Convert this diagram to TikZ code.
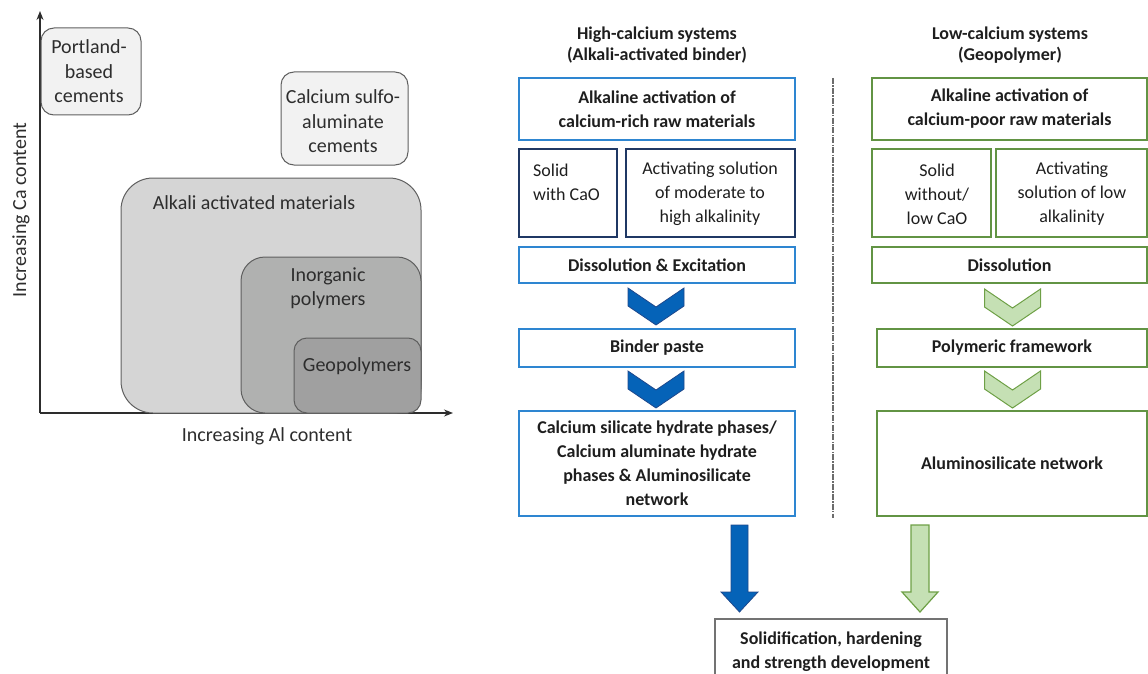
\documentclass[tikz,border=0pt]{standalone}
\usepackage{fontspec}
\setmainfont{Carlito}
\usetikzlibrary{arrows.meta}
\definecolor{flowblue}{RGB}{46,134,209}
\definecolor{navyline}{RGB}{31,56,100}
\definecolor{chevblue}{RGB}{5,99,184}
\definecolor{chevblueline}{RGB}{30,72,140}
\definecolor{flowgreen}{RGB}{98,148,68}
\definecolor{chevgreen}{RGB}{197,224,180}
\definecolor{chevgreenline}{RGB}{110,160,70}
\definecolor{txt}{RGB}{30,30,30}
\definecolor{ltxt}{RGB}{45,45,45}
\definecolor{edge}{RGB}{95,95,95}
\definecolor{fillA}{RGB}{242,242,242}
\definecolor{fillB}{RGB}{213,213,213}
\definecolor{fillC}{RGB}{176,177,176}
\definecolor{fillD}{RGB}{160,160,160}
\begin{document}
\begin{tikzpicture}[x=1pt,y=-1pt,
  ltext/.style={text=ltxt, align=center, inner sep=0pt, font=\fontsize{20}{24.5}\selectfont},
  gbox/.style={draw=edge, line width=1pt},
  bbox/.style={draw=flowblue, line width=1.2pt, inner sep=0pt, text=txt, align=center,
     font=\fontsize{18}{24}\selectfont\bfseries},
  nbox/.style={draw=navyline, line width=1.2pt, inner sep=0pt},
  grbox/.style={draw=flowgreen, line width=1.2pt, inner sep=0pt, text=txt, align=center,
     font=\fontsize{18}{24}\selectfont\bfseries},
  rtext/.style={text=txt, inner sep=0pt, font=\fontsize{18}{24}\selectfont},
  hdr/.style={text=txt, align=center, inner sep=0pt, font=\fontsize{18}{21}\selectfont\bfseries},
  pics/chev/.style={code={
    \path[pic actions] (-28,0) -- (0,19) -- (28,0) -- (28,18) -- (0,37) -- (-28,18) -- cycle;}},
  bchev/.style={fill=chevblue, draw=chevblueline, line width=0.8pt, line join=miter},
  gchev/.style={fill=chevgreen, draw=chevgreenline, line width=1pt},
]
\useasboundingbox (0,0) rectangle (1148,674);
\clip (0,0) rectangle (1148,674);

% ---------- left diagram ----------
\coordinate (origin) at (40,413);
\coordinate (ytip) at (40,11);
\coordinate (xtip) at (453,413);
\draw[line width=1.2pt, draw=ltxt, -{Stealth[length=9pt,width=7pt]}] (origin) -- (ytip);
\draw[line width=1.2pt, draw=ltxt, -{Stealth[length=9pt,width=7pt]}] (origin) -- (xtip);

\node[gbox, fill=fillA, rounded corners=13pt, minimum width=100pt, minimum height=87pt] (port) at (91,71.5) {};
\node[ltext] (portt) at (89,71.5) {Portland-\\based\\cements};

\node[gbox, fill=fillA, rounded corners=13pt, minimum width=127pt, minimum height=93pt] (csa) at (344.5,118.5) {};
\node[ltext] (csat) at (343,121.5) {Calcium sulfo-\\aluminate\\cements};

\node[gbox, fill=fillB, rounded corners=32pt, minimum width=300pt, minimum height=235pt] (aam) at (271,295.5) {};
\node[ltext] (aamt) at (254,203) {Alkali activated materials};

\node[gbox, fill=fillC, rounded corners=24pt, minimum width=180pt, minimum height=156pt] (inorg) at (331,335) {};
\node[ltext] (inorgt) at (328,288) {Inorganic\\polymers};

\node[gbox, fill=fillD, rounded corners=13pt, minimum width=127pt, minimum height=75pt] (geo) at (357.5,375.5) {};
\node[ltext] (geot) at (357,366) {Geopolymers};

\node[ltext] (xlab) at (267,436) {Increasing Al content};
\node[ltext, rotate=90] (ylab) at (21,210) {Increasing Ca content};

% ---------- right diagram: high calcium ----------
\node[hdr] (h1) at (657,45.5) {High-calcium systems\\(Alkali-activated binder)};
\node[hdr] (h2) at (1010,45.5) {Low-calcium systems\\(Geopolymer)};

\node[bbox, minimum width=276pt, minimum height=62pt] (b1) at (657,109) {Alkaline activation of\\calcium-rich raw materials};
\node[nbox, minimum width=98pt, minimum height=88pt] (b2) at (568,193) {};
\node[rtext, anchor=west, align=left] (b2t) at (533,182) {Solid\\with CaO};
\node[nbox, minimum width=169pt, minimum height=88pt] (b3) at (710.5,193) {};
\node[rtext, align=center] (b3t) at (710,194) {Activating solution\\of moderate to\\high alkalinity};
\node[bbox, minimum width=276pt, minimum height=36pt] (b4) at (657,265) {Dissolution \& Excitation};
\pic[bchev] (c1) at (656,288) {chev};
\node[bbox, minimum width=276pt, minimum height=38pt] (b5) at (657,348) {Binder paste};
\pic[bchev] (c2) at (656,371) {chev};
\node[bbox, minimum width=276pt, minimum height=105pt] (b6) at (657,463.5) {Calcium silicate hydrate phases/\\Calcium aluminate hydrate\\phases \& Aluminosilicate\\network};

% ---------- right diagram: low calcium ----------
\node[grbox, minimum width=275pt, minimum height=62pt] (g1) at (1009.5,109) {Alkaline activation of\\calcium-poor raw materials};
\node[grbox, minimum width=119pt, minimum height=88pt] (g2) at (931.5,193) {};
\node[rtext, align=center] (g2t) at (937,194) {Solid\\without/\\low CaO};
\node[grbox, minimum width=151pt, minimum height=88pt] (g3) at (1071.5,193) {};
\node[rtext, align=center] (g3t) at (1072,194) {Activating\\solution of low\\alkalinity};
\node[grbox, minimum width=275pt, minimum height=36pt] (g4) at (1009.5,265) {Dissolution};
\pic[gchev] (c3) at (1012.5,289) {chev};
\node[grbox, minimum width=270pt, minimum height=38pt] (g5) at (1012,348) {Polymeric framework};
\pic[gchev] (c4) at (1012.5,371) {chev};
\node[grbox, minimum width=270pt, minimum height=105pt] (g6) at (1012,463.5) {Aluminosilicate network};

% separator
\coordinate (dtop) at (833,78);
\coordinate (dbot) at (833,518);
\draw[draw=gray!85!black, line width=2pt, dash pattern=on 6pt off 1.2pt on 1.5pt off 1.2pt] (dtop) -- (dbot);

% big arrows
\fill[fill=chevblue, draw=chevblueline, line width=0.8pt]
  (731,525) -- (748,525) -- (748,592) -- (758,592) -- (739.5,612) -- (721,592) -- (731,592) -- cycle;
\fill[fill=chevgreen, draw=chevgreenline, line width=1.2pt]
  (911,525) -- (929,525) -- (929,592) -- (938,592) -- (920,612) -- (902,592) -- (911,592) -- cycle;

% final box
\node[draw=gray!90!black, line width=1.2pt, minimum width=232pt, minimum height=90pt] (fin) at (831,664) {};
\node[hdr, font=\fontsize{18}{24}\selectfont\bfseries] (fint) at (831,652) {Solidification, hardening\\and strength development};
\end{tikzpicture}
\end{document}
